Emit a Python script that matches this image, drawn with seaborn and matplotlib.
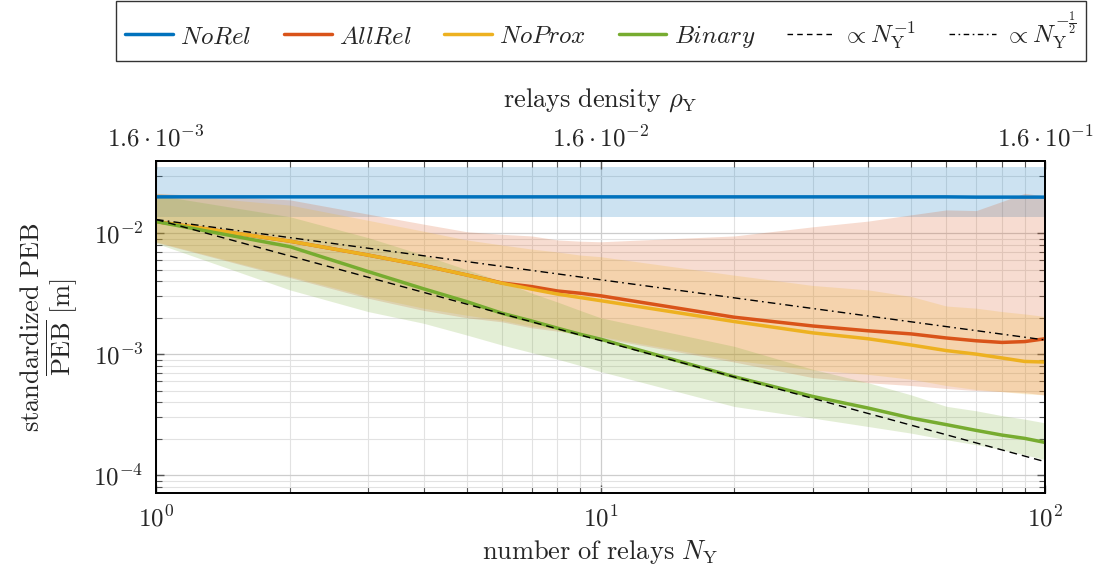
import numpy as np
import pandas as pd
import matplotlib
matplotlib.use("Agg")
import matplotlib.pyplot as plt
import seaborn as sns
from matplotlib.ticker import FixedLocator, LogLocator, FuncFormatter, NullFormatter
from matplotlib.lines import Line2D

# ---------------- data ----------------
N = [1, 2, 3, 4, 5, 6, 7, 8, 9, 10, 20, 30, 40, 50, 60, 70, 80, 90, 100]

norel_mean = [0.0200, 0.0200, 0.0200, 0.0200, 0.0200, 0.0200, 0.0200, 0.0200, 0.0200, 0.0200,
              0.0200, 0.0200, 0.0200, 0.0200, 0.0200, 0.0199, 0.0199, 0.0199, 0.0199]
norel_lo = [0.0136] * 19
norel_hi = [0.0355] * 19

allrel_mean = [0.0125, 0.0086, 0.0066, 0.0054, 0.00452, 0.00388, 0.00362, 0.00333, 0.00319, 0.00304,
               0.00202, 0.00171, 0.00156, 0.00147, 0.00136, 0.00129, 0.00125, 0.00127, 0.00134]
allrel_lo = [0.0084, 0.0043, 0.0029, 0.0023, 0.0020, 0.00185, 0.00165, 0.00155, 0.00144, 0.00136,
             0.00086, 0.00064, 0.00058, 0.00055, 0.00052, 0.00050, 0.00049, 0.00048, 0.00046]
allrel_hi = [0.0214, 0.0189, 0.0144, 0.0119, 0.0103, 0.0098, 0.0095, 0.0088, 0.0086, 0.0085,
             0.0095, 0.0113, 0.0126, 0.0142, 0.0156, 0.0154, 0.0183, 0.0214, 0.0203]

noprox_mean = [0.0125, 0.0086, 0.0066, 0.0054, 0.00452, 0.00386, 0.00345, 0.00314, 0.00294, 0.00277,
               0.00186, 0.00150, 0.00134, 0.00119, 0.00107, 0.00100, 0.00093, 0.00087, 0.00086]
noprox_lo = [0.0085, 0.0044, 0.0030, 0.0024, 0.0021, 0.0019, 0.0017, 0.0016, 0.00148, 0.0014,
             0.00089, 0.00074, 0.00068, 0.00062, 0.00055, 0.00051, 0.00049, 0.00047, 0.00046]
noprox_hi = [0.0214, 0.0171, 0.0128, 0.0104, 0.0088, 0.0080, 0.0074, 0.0070, 0.0066, 0.0064,
             0.0045, 0.0037, 0.0034, 0.0030, 0.0025, 0.0024, 0.00225, 0.00215, 0.00205]

binary_mean = [0.0125, 0.00775, 0.00482, 0.00347, 0.00272, 0.00218, 0.00188, 0.00164, 0.00146, 0.00133,
               0.00065, 0.000447, 0.000358, 0.000296, 0.000261, 0.000234, 0.000214, 0.000201, 0.000186]
binary_lo = [0.00827, 0.00340, 0.00225, 0.00180, 0.00144, 0.00119, 0.00103, 0.000909, 0.000805, 0.000718,
             0.000369, 0.000296, 0.000252, 0.000222, 0.000196, 0.000178, 0.000162, 0.000147, 0.000134]
binary_hi = [0.0207, 0.0137, 0.0092, 0.0066, 0.0050, 0.0040, 0.0032, 0.0027, 0.0023, 0.0020,
             0.00116, 0.00075, 0.00058, 0.00046, 0.00037, 0.00034, 0.00031, 0.00029, 0.00027]

ref_N = [1, 100]
ref_inv = [0.0130, 0.000129]      # proportional to N^-1
ref_invsqrt = [0.0130, 0.00131]   # proportional to N^-1/2

methods = ["NoRel", "AllRel", "NoProx", "Binary"]
colors = {"NoRel": "#0072BD", "AllRel": "#D95319", "NoProx": "#EDB120", "Binary": "#77AC30"}

top_ticks = [1, 10, 100]
top_labels = [r"$1.6\cdot10^{-3}$", r"$1.6\cdot10^{-2}$", r"$1.6\cdot10^{-1}$"]
minor_x = [2, 3, 4, 5, 6, 7, 8, 9, 20, 30, 40, 50, 60, 70, 80, 90]

# ---------------- styling ----------------
sns.set_style("white")
plt.rcParams["mathtext.fontset"] = "cm"
plt.rcParams["font.family"] = ["DejaVu Serif"]
FS = 18

means = {"NoRel": norel_mean, "AllRel": allrel_mean, "NoProx": noprox_mean, "Binary": binary_mean}
los = {"NoRel": norel_lo, "AllRel": allrel_lo, "NoProx": noprox_lo, "Binary": binary_lo}
his = {"NoRel": norel_hi, "AllRel": allrel_hi, "NoProx": noprox_hi, "Binary": binary_hi}

df = pd.concat([pd.DataFrame({"N": N, "PEB": means[m], "method": m}) for m in methods],
               ignore_index=True)

fig = plt.figure(figsize=(11.06, 5.78), dpi=100)
ax = fig.add_axes([156 / 1106, 1 - 493 / 578, (1045 - 156) / 1106, (493 - 161) / 578])

# bands
for m in methods:
    ax.fill_between(N, los[m], his[m], color=colors[m], alpha=0.2, linewidth=0, zorder=1)

# mean curves
sns.lineplot(data=df, x="N", y="PEB", hue="method", hue_order=methods,
             palette=colors, linewidth=2.5, legend=False, ax=ax, zorder=3)

# reference slopes
ax.plot(ref_N, ref_inv, color="black", lw=1.0, dashes=(5.5, 3.6), zorder=4)
ax.plot(ref_N, ref_invsqrt, color="black", lw=1.0, dashes=(5.5, 3.0, 1.2, 3.0), zorder=4)

ax.set_xscale("log")
ax.set_yscale("log")
ax.set_xlim(1, 100)
ax.set_ylim(7.1e-5, 0.0396)

ax.yaxis.set_major_locator(LogLocator(base=10, numticks=20))
ax.yaxis.set_minor_locator(LogLocator(base=10, subs=np.arange(2, 10), numticks=50))
ax.xaxis.set_major_locator(FixedLocator(top_ticks))
ax.xaxis.set_minor_locator(FixedLocator(minor_x))
fmt = FuncFormatter(lambda v, _: r"$10^{%d}$" % int(round(np.log10(v))))
ax.xaxis.set_major_formatter(fmt)
ax.yaxis.set_major_formatter(fmt)
ax.xaxis.set_minor_formatter(NullFormatter())
ax.yaxis.set_minor_formatter(NullFormatter())

ax.grid(which="major", color="#cdcdcd", lw=0.9)
ax.grid(which="minor", color="#e2e2e2", lw=0.8)
ax.set_axisbelow(True)

ax.tick_params(which="both", direction="in", left=True, right=True, bottom=True, top=False,
               color="#555555", labelsize=FS)
ax.tick_params(which="major", length=6, width=1.0, pad=9)
ax.tick_params(which="minor", length=4, width=0.8)
for s in ax.spines.values():
    s.set_color("black")
    s.set_linewidth(1.3)

ax.set_xlabel(r"$\mathrm{number\ of\ relays}\ N_{\mathrm{Y}}$", fontsize=FS + 1, labelpad=5)
ax.set_ylabel(r"$\mathrm{standardized\ PEB}$" + "\n" + r"$\overline{\mathrm{PEB}}\ [\mathrm{m}]$",
              fontsize=FS + 1, labelpad=10, linespacing=1.0)

# top axis: relay density
ax2 = ax.twiny()
ax2.set_xscale("log")
ax2.set_xlim(1, 100)
ax2.xaxis.set_major_locator(FixedLocator(top_ticks))
ax2.xaxis.set_minor_locator(FixedLocator(minor_x))
ax2.xaxis.set_major_formatter(FuncFormatter(lambda v, i: top_labels[i] if i is not None and i < 3 else ""))
ax2.xaxis.set_minor_formatter(NullFormatter())
ax2.tick_params(which="both", direction="in", top=True, bottom=False, color="#555555", labelsize=FS)
ax2.tick_params(which="major", length=6, width=1.0, pad=7)
ax2.tick_params(which="minor", length=4, width=0.8)
ax2.set_xlabel(r"$\mathrm{relays\ density}\ \rho_{\mathrm{Y}}$", fontsize=FS + 1, labelpad=14)
for s in ax2.spines.values():
    s.set_color("black")
    s.set_linewidth(1.3)
ax2.grid(False)

# legend
handles = [Line2D([0], [0], color=colors[m], lw=2.5) for m in methods]
handles += [Line2D([0], [0], color="black", lw=1.0, dashes=(4, 3)),
            Line2D([0], [0], color="black", lw=1.0, dashes=(4, 2.5, 1.2, 2.5))]
labels = [r"$\mathit{NoRel}$", r"$\mathit{AllRel}$", r"$\mathit{NoProx}$", r"$\mathit{Binary}$",
          r"$\propto N_{\mathrm{Y}}^{-1}$", r"$\propto N_{\mathrm{Y}}^{-\frac{1}{2}}$"]
leg = fig.legend(handles, labels, loc="center", bbox_to_anchor=(601 / 1106, 1 - 31 / 578),
                 ncol=6, fontsize=FS, frameon=True, fancybox=False, edgecolor="black",
                 handlelength=1.9, handletextpad=0.3, columnspacing=1.3, borderpad=0.35,
                 borderaxespad=0)
leg.get_frame().set_linewidth(1.0)

fig.savefig("out.png", dpi=100)
